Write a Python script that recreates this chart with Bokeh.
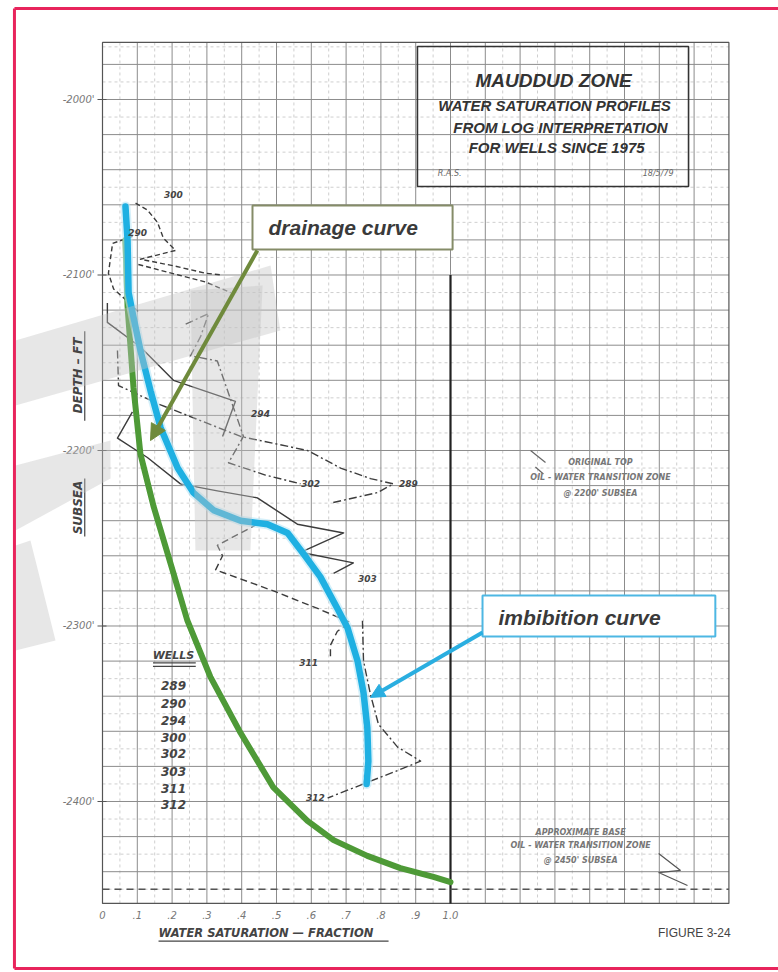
import math
from bokeh.plotting import figure
from bokeh.models import Range1d, Label, Arrow, NormalHead
from bokeh.core.properties import value
from bokeh.embed import file_html
from bokeh.resources import INLINE

nan = math.nan

# ---------------- data: water saturation (fraction) vs subsea depth (ft) ----------------
drainage_sw = [0.066, 0.072, 0.089, 0.109, 0.147, 0.204, 0.244, 0.310, 0.397, 0.491,
               0.589, 0.664, 0.761, 0.856, 0.951, 1.0]
drainage_depth = [-2080, -2118, -2164, -2202, -2232, -2270, -2297, -2329, -2361, -2392,
                  -2411, -2422, -2431, -2438, -2443, -2446]

imbibition_sw = [0.066, 0.072, 0.075, 0.089, 0.109, 0.138, 0.167, 0.216, 0.261, 0.319,
                 0.397, 0.474, 0.532, 0.578, 0.626, 0.675, 0.704, 0.733, 0.750, 0.761,
                 0.764, 0.759]
imbibition_depth = [-2061, -2080, -2110, -2124, -2143, -2166, -2187, -2210, -2224, -2234,
                    -2240, -2242, -2247, -2259, -2272, -2290, -2301, -2320, -2338, -2358,
                    -2377, -2390]

well289_sw = [0.043, 0.046, 0.167, 0.397, 0.589, 0.684, 0.770, 0.836, 0.790, 0.655]
well289_depth = [-2143, -2163, -2174, -2192, -2200, -2210, -2216, -2219, -2224, -2230]

well290_sw = [0.086, 0.029, 0.017, 0.032, 0.072, 0.103]
well290_depth = [-2078, -2082, -2099, -2108, -2115, -2121]

well294_sw = [0.014, 0.014, 0.109, 0.204, 0.382, 0.345]
well294_depth = [-2116, -2127, -2141, -2160, -2172, -2192]

well300_sw = [0.095, 0.129, 0.158, 0.175, 0.210, 0.109, 0.210, 0.296, 0.345, nan,
              0.103, 0.218, 0.296, 0.368]
well300_depth = [-2059, -2063, -2070, -2079, -2086, -2091, -2095, -2099, -2100, nan,
                 -2094, -2100, -2104, -2110]

well302_sw = [0.239, 0.305, 0.282, 0.253, 0.330, 0.405, 0.362, 0.468, 0.569]
well302_depth = [-2128, -2122, -2135, -2146, -2149, -2192, -2207, -2214, -2219]

well303_sw = [0.086, 0.043, 0.129, 0.224, 0.330, 0.445, 0.491, 0.560, 0.693, 0.569, 0.721, 0.664]
well303_depth = [-2178, -2193, -2204, -2219, -2223, -2227, -2233, -2242, -2247, -2258, -2264, -2270]

well311_sw = [0.445, 0.330, 0.345, 0.325, 0.491, 0.618, 0.713, 0.675, 0.655, 0.655]
well311_depth = [-2242, -2254, -2260, -2268, -2280, -2290, -2298, -2303, -2311, -2319]

well312_sw = [0.747, 0.750, 0.770, 0.793, 0.848, 0.914, 0.865, 0.750, 0.647]
well312_depth = [-2297, -2320, -2339, -2356, -2369, -2377, -2381, -2390, -2398]

well_names = ["289", "290", "294", "300", "302", "303", "311", "312"]

x_ticks = [0.0, 0.1, 0.2, 0.3, 0.4, 0.5, 0.6, 0.7, 0.8, 0.9, 1.0]
x_tick_labels = ["0", ".1", ".2", ".3", ".4", ".5", ".6", ".7", ".8", ".9", "1.0"]
y_ticks = [-2000, -2100, -2200, -2300, -2400]
y_tick_labels = ["-2000'", "-2100'", "-2200'", "-2300'", "-2400'"]

# chart-paper extent (saturation and depth)
SW_MIN, SW_MAX = 0.0, 1.8
D_TOP, D_BOT = -1967.5, -2458.1

# ---------------- figure: the frame spans the whole sheet ----------------
X_LO, X_HI = -0.2931, 1.9425
Y_LO, Y_HI = -2497.44, -1943.59
p = figure(width=778, height=972, output_backend="svg", toolbar_location=None,
           x_range=Range1d(X_LO, X_HI), y_range=Range1d(Y_LO, Y_HI),
           x_axis_location=None, y_axis_location=None, min_border=0,
           background_fill_color="white", border_fill_color="white")
p.outline_line_color = None
p.title.visible = False
p.grid.visible = False

INK = "#3c3c3c"
HAND = "DejaVu Sans"
XPX = (X_HI - X_LO) / 778      # saturation units per pixel
YPX = (Y_HI - Y_LO) / 972      # feet per pixel

# graph-paper grid
major_x = [round(0.1 * i, 2) for i in range(1, 18)]
minor_x = [round(0.05 + 0.1 * i, 3) for i in range(18)]
major_y = list(range(-2440, -1967, 20))
minor_y = list(range(-2450, -1967, 20))
p.segment(x0=minor_x, y0=[D_BOT] * len(minor_x), x1=minor_x, y1=[D_TOP] * len(minor_x),
          line_color="#cfcfcf", line_width=1, line_dash="3 3")
p.segment(x0=[SW_MIN] * len(minor_y), y0=minor_y, x1=[SW_MAX] * len(minor_y), y1=minor_y,
          line_color="#cfcfcf", line_width=1, line_dash="3 3")
p.segment(x0=major_x, y0=[D_BOT] * len(major_x), x1=major_x, y1=[D_TOP] * len(major_x),
          line_color="#8c8c8c", line_width=1)
p.segment(x0=[SW_MIN] * len(major_y), y0=major_y, x1=[SW_MAX] * len(major_y), y1=major_y,
          line_color="#8c8c8c", line_width=1)
p.quad(left=[SW_MIN], right=[SW_MAX], top=[D_TOP], bottom=[D_BOT],
       fill_color=None, line_color="#555555", line_width=1.2)

# axis ticks and tick labels
p.segment(x0=[-5 * XPX] * len(y_ticks), y0=y_ticks, x1=[4 * XPX] * len(y_ticks), y1=y_ticks,
          line_color="#555555", line_width=1.2)
p.text(x=[-8 * XPX] * len(y_ticks), y=y_ticks, text=y_tick_labels,
       text_font=value(HAND), text_font_style="italic", text_font_size="10px",
       text_color="#777777", text_align="right", text_baseline="middle")
p.text(x=x_ticks, y=[D_BOT - 12 * YPX] * len(x_ticks), text=x_tick_labels,
       text_font=value(HAND), text_font_style="italic", text_font_size="10px",
       text_color="#777777", text_align="center", text_baseline="middle")

# heavy line at Sw = 1.0 and base of transition zone
p.segment(x0=[1.0], y0=[-2100], x1=[1.0], y1=[D_BOT], line_color="#222222", line_width=2.2)
p.segment(x0=[SW_MIN], y0=[-2450], x1=[SW_MAX], y1=[-2450], line_color="#555555",
          line_width=1.3, line_dash="7 5")

# well profiles
dash_style = {"289": "8 3 2 3", "290": "5 3", "294": "solid", "300": "5 3",
              "302": "8 3 2 3", "303": "solid", "311": "7 4", "312": "8 3 2 3"}
well_sw = [well289_sw, well290_sw, well294_sw, well300_sw,
           well302_sw, well303_sw, well311_sw, well312_sw]
well_depth = [well289_depth, well290_depth, well294_depth, well300_depth,
              well302_depth, well303_depth, well311_depth, well312_depth]
for name, xs, ys in zip(well_names, well_sw, well_depth):
    p.line(xs, ys, line_color=INK, line_width=1.4, line_dash=dash_style[name],
           line_join="round")

# well labels along the profiles
well_label_pos = {"300": (0.204, -2054), "290": (0.101, -2076), "294": (0.454, -2179),
                  "302": (0.598, -2219), "289": (0.879, -2219), "303": (0.761, -2273),
                  "311": (0.592, -2321), "312": (0.612, -2398)}
for name, (lx, ly) in well_label_pos.items():
    p.add_layout(Label(x=lx, y=ly, text=name, text_font=HAND, text_font_style="bold italic",
                       text_font_size="9px", text_color="#444444",
                       text_align="center", text_baseline="middle"))

# drainage and imbibition curves
p.line(drainage_sw, drainage_depth, line_color="#4e9a37", line_width=6, line_cap="round",
       line_join="round")
p.line(imbibition_sw, imbibition_depth, line_color="#b9e6f6", line_width=10,
       line_cap="round", line_join="round", line_alpha=0.6)
p.line(imbibition_sw, imbibition_depth, line_color="#1fb0e2", line_width=6.5,
       line_cap="round", line_join="round")

# title block
p.quad(left=[0.905], right=[1.684], top=[-1969.8], bottom=[-2049.6],
       fill_color=None, line_color="#333333", line_width=1.6)
title_lines = [("MAUDDUD ZONE", 1.296, -1989.2, "19px"),
               ("WATER SATURATION PROFILES", 1.299, -2003.4, "15px"),
               ("FROM LOG INTERPRETATION", 1.316, -2016.0, "15px"),
               ("FOR WELLS SINCE 1975", 1.305, -2027.4, "15px")]
for txt, tx, ty, fs in title_lines:
    p.add_layout(Label(x=tx, y=ty, text=txt, text_font="Liberation Sans",
                       text_font_style="bold italic", text_font_size=fs, text_color="#333333",
                       text_align="center", text_baseline="middle"))
p.add_layout(Label(x=0.963, y=-2042.2, text="R.A.S.", text_font=HAND, text_font_style="italic",
                   text_font_size="8px", text_color="#666666", text_baseline="middle"))
p.add_layout(Label(x=1.641, y=-2042.2, text="18/5/79", text_font=HAND, text_font_style="italic",
                   text_font_size="8px", text_color="#666666", text_align="right",
                   text_baseline="middle"))

# wells list
p.add_layout(Label(x=0.204, y=-2316.8, text="WELLS", text_font=HAND,
                   text_font_style="bold italic", text_font_size="11px", text_color="#444444",
                   text_align="center", text_baseline="middle"))
p.segment(x0=[0.145, 0.145], y0=[-2321.0, -2323.0], x1=[0.268, 0.268], y1=[-2321.0, -2323.0],
          line_color="#444444", line_width=1.2)
list_depths = [-2333.9, -2344.2, -2353.8, -2363.5, -2372.6, -2382.9, -2392.6, -2401.7]
for name, ly in zip(well_names, list_depths):
    p.add_layout(Label(x=0.204, y=ly, text=name, text_font=HAND, text_font_style="bold italic",
                       text_font_size="12px", text_color="#444444",
                       text_align="center", text_baseline="middle"))

# transition-zone notes
for txt, ty in [("ORIGINAL TOP", -2206.8), ("OIL - WATER TRANSITION ZONE", -2215.4),
                ("@ 2200' SUBSEA", -2224.5)]:
    p.add_layout(Label(x=1.431, y=ty, text=txt, text_font=HAND, text_font_style="bold italic",
                       text_font_size="8px", text_color="#777777",
                       text_align="center", text_baseline="middle"))
p.line([1.23, 1.273], [-2200.0, -2206.8], line_color="#666666", line_width=1.2)
p.line([1.244, 1.267], [-2209.4, -2213.4], line_color="#666666", line_width=1.2)
for txt, ty in [("APPROXIMATE BASE", -2417.7), ("OIL - WATER TRANSITION ZONE", -2425.1),
                ("@ 2450' SUBSEA", -2433.6)]:
    p.add_layout(Label(x=1.374, y=ty, text=txt, text_font=HAND, text_font_style="bold italic",
                       text_font_size="8px", text_color="#777777",
                       text_align="center", text_baseline="middle"))
p.line([1.598, 1.661, 1.598, 1.681], [-2429.6, -2439.3, -2440.5, -2447.9],
       line_color="#555555", line_width=1.2)

# callout boxes
p.quad(left=[0.431], right=[1.006], top=[-2060.4], bottom=[-2085.5],
       fill_color="white", line_color="#858c68", line_width=2)
p.add_layout(Label(x=0.477, y=-2072.9, text="drainage curve", text_font="Liberation Sans",
                   text_font_style="bold italic", text_font_size="21px", text_color="#3a3a3a",
                   text_baseline="middle"))
p.quad(left=[1.092], right=[1.761], top=[-2282.6], bottom=[-2306.0],
       fill_color="white", line_color="#4db7e3", line_width=2)
p.add_layout(Label(x=1.138, y=-2295.2, text="imbibition curve", text_font="Liberation Sans",
                   text_font_style="bold italic", text_font_size="21px", text_color="#3a3a3a",
                   text_baseline="middle"))
p.add_layout(Arrow(end=NormalHead(size=16, fill_color="#6f8a3c", line_color="#6f8a3c"),
                   x_start=0.445, y_start=-2086.0, x_end=0.138, y_end=-2194.3,
                   line_color="#6f8a3c", line_width=4))
p.add_layout(Arrow(end=NormalHead(size=14, fill_color="#2aaee0", line_color="#2aaee0"),
                   x_start=1.092, y_start=-2303.7, x_end=0.770, y_end=-2340.7,
                   line_color="#2aaee0", line_width=4))

# axis titles (hand-lettered, underlined)
p.add_layout(Label(x=-0.069, y=-2157.3, text="DEPTH – FT", text_font=HAND, angle=math.pi / 2,
                   text_font_style="bold italic", text_font_size="12px", text_color="#444444",
                   text_align="center", text_baseline="middle"))
p.add_layout(Label(x=-0.069, y=-2232.5, text="SUBSEA", text_font=HAND, angle=math.pi / 2,
                   text_font_style="bold italic", text_font_size="12px", text_color="#444444",
                   text_align="center", text_baseline="middle"))
p.segment(x0=[-0.051, -0.051], y0=[-2132.0, -2216.0], x1=[-0.051, -0.051], y1=[-2183.0, -2249.0],
          line_color="#444444", line_width=1.2)
p.add_layout(Label(x=0.161, y=-2475.2, text="WATER SATURATION — FRACTION", text_font=HAND,
                   text_font_style="bold italic", text_font_size="11.5px", text_color="#444444",
                   text_baseline="middle"))
p.segment(x0=[0.161], y0=[-2479.6], x1=[0.822], y1=[-2479.6], line_color="#444444",
          line_width=1.2)
p.add_layout(Label(x=1.805, y=-2475.2, text="FIGURE 3-24", text_font="Liberation Sans",
                   text_font_size="12px", text_color="#444444", text_align="right",
                   text_baseline="middle"))

# faint watermark strokes
p.patches(xs=[[-0.25, 0.483, 0.511, -0.25], [0.253, 0.460, 0.425, 0.267],
              [-0.25, 0.023, 0.023, -0.25], [-0.25, -0.207, -0.135, -0.25]],
          ys=[[-2137.3, -2094.6, -2131.6, -2174.4], [-2108.8, -2106.0, -2257.0, -2257.0],
              [-2208.5, -2194.3, -2216.0, -2245.6], [-2254.1, -2251.3, -2308.3, -2314.0]],
          fill_color="#c4c4c4", fill_alpha=0.4, line_color=None)

# page frame: top, left and bottom edges; the sheet runs on past the right edge
SHEET_L, SHEET_T, SHEET_B = -0.253, -1948.1, -2495.2
p.segment(x0=[SHEET_L, SHEET_L, SHEET_L], y0=[SHEET_T, SHEET_T, SHEET_B],
          x1=[X_HI, SHEET_L, X_HI], y1=[SHEET_T, SHEET_B, SHEET_B],
          line_color="#e8245c", line_width=3)

open("out.html", "w").write(file_html(p, INLINE))
